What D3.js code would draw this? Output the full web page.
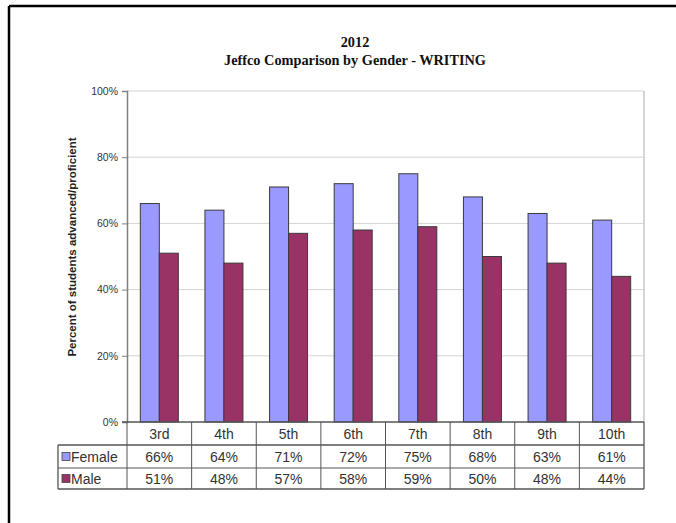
<!DOCTYPE html>
<html>
<head>
<meta charset="utf-8">
<script src="https://cdn.jsdelivr.net/npm/d3@7"></script>
<style>
  body { margin: 0; background: #fff; }
  svg { display: block; }
</style>
</head>
<body>
<svg id="chart" width="676" height="523"></svg>
<script>
var grades = ["3rd", "4th", "5th", "6th", "7th", "8th", "9th", "10th"];
var female = [66, 64, 71, 72, 75, 68, 63, 61];
var male = [51, 48, 57, 58, 59, 50, 48, 44];
var yTicks = [0, 20, 40, 60, 80, 100];
var seriesNames = ["Female", "Male"];
var seriesColors = ["#9999ff", "#993366"];

var svg = d3.select("#chart");

// page frame (top + left edge of the scanned box)
svg.append("line").attr("x1", 9).attr("x2", 676).attr("y1", 6).attr("y2", 6)
    .attr("stroke", "#000").attr("stroke-width", 2.5);
svg.append("line").attr("x1", 9).attr("x2", 9).attr("y1", 6).attr("y2", 523)
    .attr("stroke", "#000").attr("stroke-width", 2.5);

// titles
var titleFont = "bold 14.3px 'Liberation Serif', 'Times New Roman', serif";
svg.append("text").attr("x", 355).attr("y", 47).attr("text-anchor", "middle")
    .style("font", titleFont).attr("fill", "#111")
    .text("2012");
svg.append("text").attr("x", 355).attr("y", 65).attr("text-anchor", "middle")
    .style("font", titleFont).attr("fill", "#111")
    .text("Jeffco Comparison by Gender - WRITING");

// note: "top" is a reserved window prop, so use plot* names
var plotLeft = 127, plotRight = 644, plotTop = 91, plotBottom = 422;

var x = d3.scaleBand().domain(grades).range([plotLeft, plotRight]);
var y = d3.scaleLinear().domain([0, 100]).range([plotBottom, plotTop]);

// gridlines
svg.append("g").selectAll("line").data(yTicks.filter(function (d) { return d > 0; }))
    .enter().append("line")
    .attr("x1", plotLeft).attr("x2", plotRight)
    .attr("y1", function (d) { return y(d); }).attr("y2", function (d) { return y(d); })
    .attr("stroke", "#d4d4d4").attr("stroke-width", 1);

// right edge of plot area
svg.append("line").attr("x1", plotRight).attr("x2", plotRight).attr("y1", plotTop).attr("y2", plotBottom)
    .attr("stroke", "#c8c8c8").attr("stroke-width", 1.5);

// y axis
var yAxis = d3.axisLeft(y).tickValues(yTicks).tickSize(5)
    .tickFormat(function (d) { return d + "%"; });
var gy = svg.append("g").attr("transform", "translate(" + plotLeft + ",0)").call(yAxis);
gy.select(".domain").attr("stroke", "#808080").attr("stroke-width", 1.5);
gy.selectAll(".tick line").attr("stroke", "#808080");
gy.selectAll(".tick text")
    .style("font", "10.5px 'Liberation Sans', Arial, sans-serif")
    .attr("fill", "#333").attr("x", -9);

// y axis title
svg.append("text")
    .attr("transform", "translate(76,247) rotate(-90)")
    .attr("text-anchor", "middle")
    .style("font", "bold 11.5px 'Liberation Sans', Arial, sans-serif")
    .attr("fill", "#222")
    .text("Percent of students advanced/proficient");

// bars
var barW = 19;
var series = [female, male];
series.forEach(function (vals, si) {
    svg.append("g").selectAll("rect").data(vals).enter().append("rect")
        .attr("x", function (d, i) { return x(grades[i]) + x.bandwidth() / 2 - barW + si * barW; })
        .attr("y", function (d) { return y(d); })
        .attr("width", barW)
        .attr("height", function (d) { return plotBottom - y(d); })
        .attr("fill", seriesColors[si])
        .attr("stroke", "#3a3a3a").attr("stroke-width", 1);
});

// x axis baseline
svg.append("line").attr("x1", plotLeft - 5).attr("x2", plotRight).attr("y1", plotBottom).attr("y2", plotBottom)
    .attr("stroke", "#555").attr("stroke-width", 1.5);

// data table
var legendLeft = 58;
var rowTops = [plotBottom, 445, 468, 489];
var tbl = svg.append("g");
var lineColor = "#555";
var font = "14px 'Liberation Sans', Arial, sans-serif";

// horizontal lines
tbl.append("line").attr("x1", legendLeft).attr("x2", plotRight).attr("y1", rowTops[1]).attr("y2", rowTops[1])
    .attr("stroke", lineColor).attr("stroke-width", 1.3);
tbl.append("line").attr("x1", legendLeft).attr("x2", plotRight).attr("y1", rowTops[2]).attr("y2", rowTops[2])
    .attr("stroke", lineColor).attr("stroke-width", 1);
tbl.append("line").attr("x1", legendLeft).attr("x2", plotRight).attr("y1", rowTops[3]).attr("y2", rowTops[3])
    .attr("stroke", lineColor).attr("stroke-width", 1.3);
// vertical lines
tbl.append("line").attr("x1", legendLeft).attr("x2", legendLeft).attr("y1", rowTops[1]).attr("y2", rowTops[3])
    .attr("stroke", lineColor).attr("stroke-width", 1.3);
tbl.selectAll("line.v").data(grades).enter().append("line").attr("class", "v")
    .attr("x1", function (d) { return x(d); }).attr("x2", function (d) { return x(d); })
    .attr("y1", plotBottom).attr("y2", rowTops[3])
    .attr("stroke", lineColor).attr("stroke-width", 1);
tbl.append("line").attr("x1", plotRight).attr("x2", plotRight).attr("y1", plotBottom).attr("y2", rowTops[3])
    .attr("stroke", lineColor).attr("stroke-width", 1.3);

// category labels
tbl.selectAll("text.cat").data(grades).enter().append("text").attr("class", "cat")
    .attr("x", function (d) { return x(d) + x.bandwidth() / 2; })
    .attr("y", 439).attr("text-anchor", "middle")
    .style("font", font).attr("fill", "#333")
    .text(function (d) { return d; });

// values rows
series.forEach(function (vals, si) {
    var rowMid = (rowTops[si + 1] + rowTops[si + 2]) / 2;
    tbl.selectAll("text.val" + si).data(vals).enter().append("text").attr("class", "val" + si)
        .attr("x", function (d, i) { return x(grades[i]) + x.bandwidth() / 2; })
        .attr("y", rowMid + 5).attr("text-anchor", "middle")
        .style("font", font).attr("fill", "#333")
        .text(function (d) { return d + "%"; });
    tbl.append("rect").attr("x", 62).attr("y", rowMid - 4).attr("width", 8).attr("height", 8)
        .attr("fill", seriesColors[si]).attr("stroke", "#444").attr("stroke-width", 0.8);
    tbl.append("text").attr("x", 71).attr("y", rowMid + 5)
        .style("font", font).attr("fill", "#333")
        .text(seriesNames[si]);
});
</script>
</body>
</html>
